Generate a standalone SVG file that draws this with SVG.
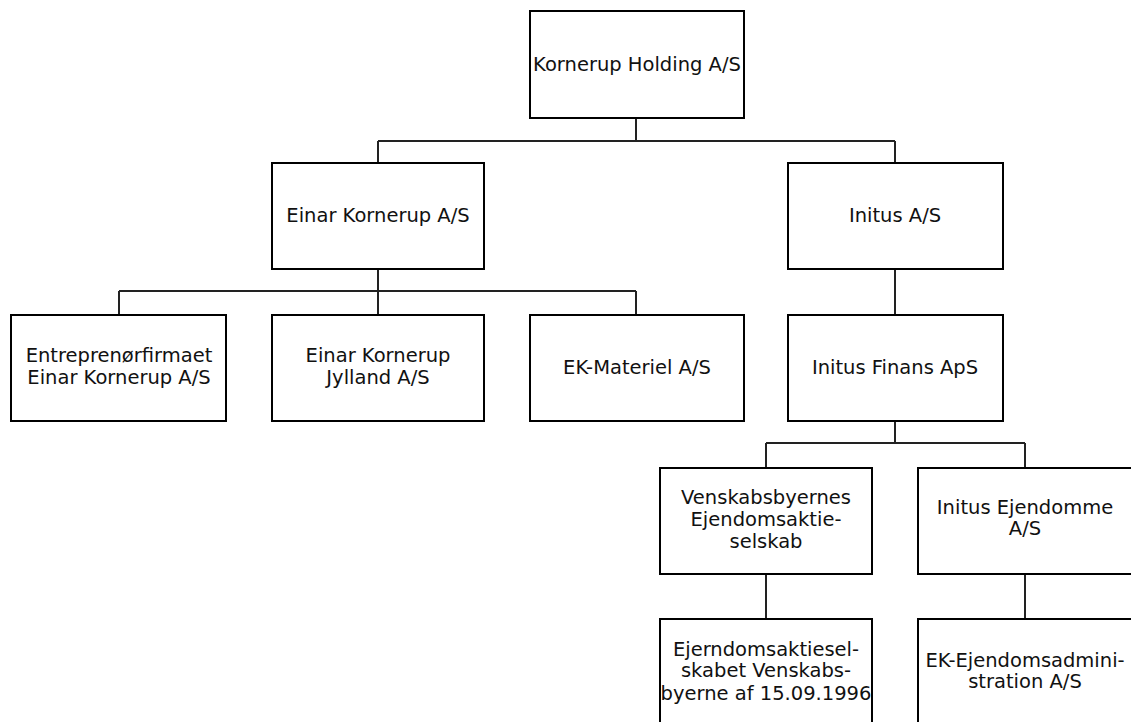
<svg xmlns="http://www.w3.org/2000/svg" width="1131" height="722" viewBox="0 0 1131 722">
<style>
.box{fill:#fff;stroke:#000;stroke-width:2}
.t{font-family:"DejaVu Sans",sans-serif;font-size:19.5px;fill:#111;text-anchor:middle}
.c{fill:none;stroke:#222;stroke-width:2}
</style>
<rect width="1131" height="722" fill="#fff"/>
<g id="connectors">
<path class="c" d="M636 118V141M378 141H895M378 141V163M895 141V163"/>
<path class="c" d="M378 269V291M119 291H636M119 291V315M378 291V315M636 291V315"/>
<path class="c" d="M895 269V315"/>
<path class="c" d="M895 421V443M766 443H1025M766 443V468M1025 443V468"/>
<path class="c" d="M766 574V619M1025 574V619"/>
</g>
<g id="n1"><rect class="box" x="530" y="11" width="214" height="107"/><text class="t" x="637" y="71">Kornerup Holding A/S</text></g>
<g id="n2"><rect class="box" x="272" y="163" width="212" height="106"/><text class="t" x="378" y="222">Einar Kornerup A/S</text></g>
<g id="n3"><rect class="box" x="788" y="163" width="215" height="106"/><text class="t" x="895" y="222">Initus A/S</text></g>
<g id="n4"><rect class="box" x="11" y="315" width="215" height="106"/><text class="t" x="119" y="362">Entreprenørfirmaet</text><text class="t" x="119" y="384">Einar Kornerup A/S</text></g>
<g id="n5"><rect class="box" x="272" y="315" width="212" height="106"/><text class="t" x="378" y="362">Einar Kornerup</text><text class="t" x="378" y="384">Jylland A/S</text></g>
<g id="n6"><rect class="box" x="530" y="315" width="214" height="106"/><text class="t" x="637" y="374">EK-Materiel A/S</text></g>
<g id="n7"><rect class="box" x="788" y="315" width="215" height="106"/><text class="t" x="895" y="374">Initus Finans ApS</text></g>
<g id="n8"><rect class="box" x="660" y="468" width="212" height="106"/><text class="t" x="766" y="504">Venskabsbyernes</text><text class="t" x="766" y="526">Ejendomsaktie-</text><text class="t" x="766" y="548">selskab</text></g>
<g id="n9"><rect class="box" x="918" y="468" width="216" height="106"/><text class="t" x="1025" y="514">Initus Ejendomme</text><text class="t" x="1025" y="535">A/S</text></g>
<g id="n10"><rect class="box" x="660" y="619" width="212" height="110"/><text class="t" x="766" y="656">Ejerndomsaktiesel-</text><text class="t" x="766" y="677">skabet Venskabs-</text><text class="t" x="766" y="700">byerne af 15.09.1996</text></g>
<g id="n11"><rect class="box" x="918" y="619" width="216" height="110"/><text class="t" x="1025" y="667">EK-Ejendomsadmini-</text><text class="t" x="1025" y="688">stration A/S</text></g>
</svg>
